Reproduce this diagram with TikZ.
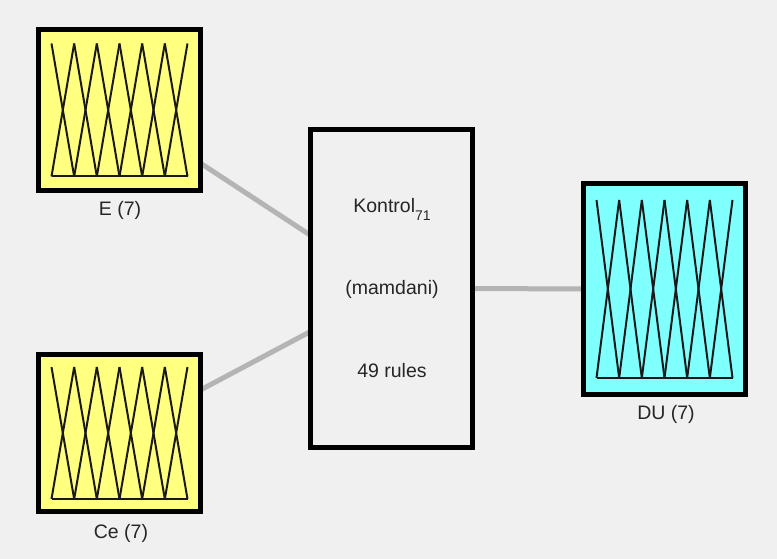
\documentclass[tikz,border=0pt]{standalone}
\usepackage{fontspec}
\setmainfont{Liberation Sans}
\usetikzlibrary{calc}
\definecolor{bgc}{HTML}{F0F0F0}
\definecolor{conc}{HTML}{B4B4B4}
\definecolor{yelc}{HTML}{FFFF80}
\definecolor{cyac}{HTML}{80FFFF}
\pgfdeclarelayer{back}
\pgfsetlayers{back,main}
\tikzset{
  mfbox/.style={draw=black, line width=5pt, rectangle, inner sep=0pt, minimum width=162pt},
  rulebox/.style={draw=black, line width=5pt, fill=bgc, rectangle, inner sep=0pt, minimum width=162pt, minimum height=318pt},
  conn/.style={draw=conc, line width=5pt},
  mfline/.style={draw=black!90, line width=2pt},
  lbl/.style={anchor=base, inner sep=0pt, font=\fontsize{19.5}{22}\selectfont, text=black!85}
}
\newcommand\mfgrid[2]{% node, half height of triangles
  \begin{scope}[shift={(#1.center)}]
    \foreach \i in {0,...,5}{
      \draw[mfline] ({-68+\i*136/6}, -#2) -- ({-68+(\i+1)*136/6}, #2);
      \draw[mfline] ({-68+\i*136/6}, #2) -- ({-68+(\i+1)*136/6}, -#2);
    }
    \draw[mfline] (-68,#2) -- (68,#2);
  \end{scope}}
\begin{document}
\begin{tikzpicture}[x=1pt,y=-1pt]
  \useasboundingbox (0,0) rectangle (777,559);
  \begin{pgfonlayer}{back}
    \fill[bgc] (0,0) rectangle (777,559);
  \end{pgfonlayer}
  \node[mfbox, fill=yelc, minimum height=161pt] (E) at (119.5,110) {};
  \node[mfbox, fill=yelc, minimum height=157pt] (Ce) at (119.5,433) {};
  \node[mfbox, fill=cyac, minimum height=211pt] (DU) at (664.5,289) {};
  \node[rulebox] (K) at (391.5,288.5) {};
  \begin{pgfonlayer}{back}
    \draw[conn] (E.center) -- (K.center);
    \draw[conn] (Ce.center) -- (K.center);
    \draw[conn] (K.center) -- (DU.center);
  \end{pgfonlayer}
  \mfgrid{E}{66.5}
  \mfgrid{Ce}{66}
  \mfgrid{DU}{89}
  \node[lbl] (El) at (120,215) {E (7)};
  \node[lbl] (Cel) at (121,538) {Ce (7)};
  \node[lbl] (DUl) at (666,419) {DU (7)};
  \node[lbl] (K1) at (392,212) {Kontrol\raisebox{-8pt}{\fontsize{14}{14}\selectfont 71}};
  \node[lbl] (K2) at (392,294) {(mamdani)};
  \node[lbl] (K3) at (392,377) {49 rules};
\end{tikzpicture}
\end{document}
